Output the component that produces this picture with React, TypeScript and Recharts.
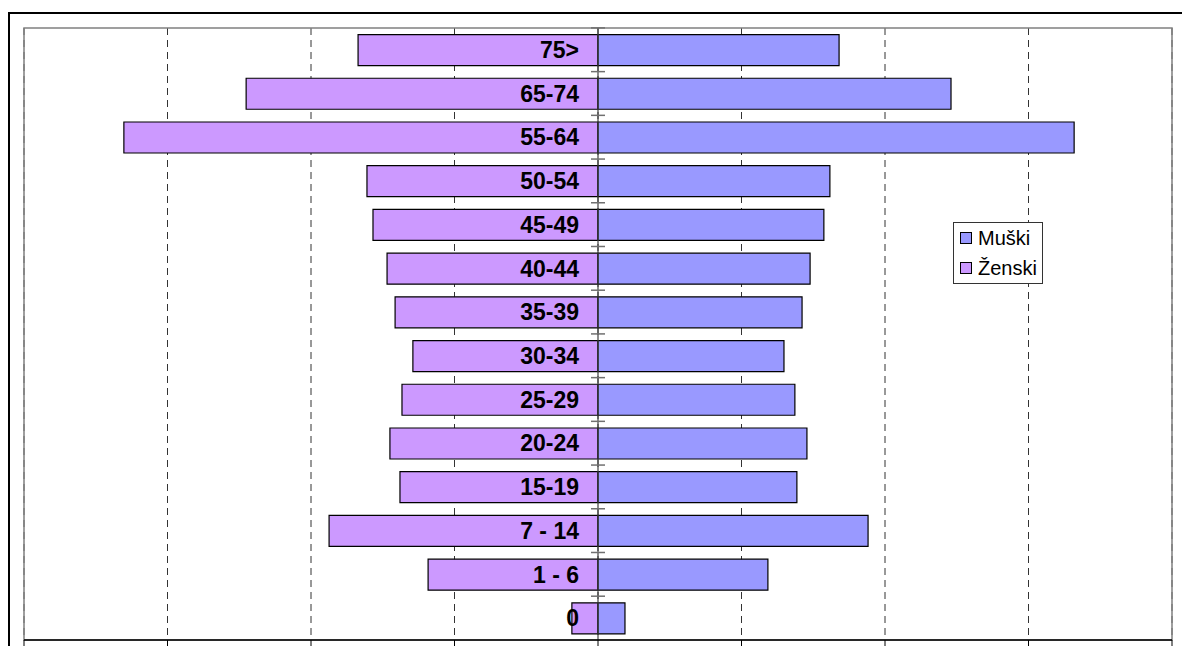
import React from 'react';
import {
  BarChart,
  Bar,
  XAxis,
  YAxis,
  CartesianGrid,
  ReferenceLine,
  ReferenceArea,
  LabelList,
} from 'recharts';

const ageGroups = ['75>', '65-74', '55-64', '50-54', '45-49', '40-44', '35-39', '30-34', '25-29', '20-24', '15-19', '7 - 14', '1 - 6', '0'];
const maleValues = [840, 1230, 1659, 808, 787, 739, 711, 648, 686, 728, 693, 941, 592, 94];
const femaleValues = [836, 1226, 1652, 805, 784, 735, 707, 645, 683, 725, 690, 937, 592, 91];
const xTicks = [-2000, -1500, -1000, -500, 0, 500, 1000, 1500, 2000];
const seriesNames = ['Muški', 'Ženski'];
const seriesColors = ['#9999FF', '#CC99FF'];

const data = ageGroups.map((age, i) => ({
  age,
  male: maleValues[i],
  female: -femaleValues[i],
}));

const GAP = 0.15;

const AgeLabel = (props: any) => {
  const vb = props.viewBox || props;
  const x = vb.x;
  const y = vb.y;
  const h = vb.height;
  const half = (h * GAP) / (1 - 2 * GAP);
  const tickY = y - half;
  return (
    <g>
      <line x1={x - 7} x2={x + 7} y1={tickY} y2={tickY} stroke="#707070" strokeWidth={1.5} />
      <text
        x={x - 19}
        y={y + h / 2 + 8}
        textAnchor="end"
        fontFamily="'Liberation Sans', Arial, sans-serif"
        fontWeight="bold"
        fontSize={23}
        fill="#000"
      >
        {props.value}
      </text>
    </g>
  );
};

export default function App() {
  return (
    <div
      style={{
        position: 'fixed',
        left: 8,
        top: 12,
        width: 1200,
        height: 700,
        border: '2px solid #000',
        background: '#fff',
        overflow: 'hidden',
      }}
    >
      <BarChart
        width={1180}
        height={657}
        data={data}
        layout="vertical"
        stackOffset="sign"
        barCategoryGap="15%"
        margin={{ top: 14, right: 18, bottom: 0, left: 14 }}
      >
        <CartesianGrid horizontal={false} stroke="#333" strokeDasharray="7 5" />
        <ReferenceArea x1={-2000} x2={2000} fill="none" stroke="#808080" strokeWidth={1.5} />
        <XAxis
          type="number"
          domain={[-2000, 2000]}
          ticks={xTicks}
          height={31}
          axisLine={{ stroke: '#000', strokeWidth: 1.5 }}
          tickLine={{ stroke: '#000' }}
          tickSize={7}
          tickFormatter={() => ''}
        />
        <YAxis type="category" dataKey="age" hide />
        <Bar dataKey="female" name={seriesNames[1]} stackId="a" fill={seriesColors[1]} stroke="#000" strokeWidth={1.2} isAnimationActive={false} />
        <Bar dataKey="male" name={seriesNames[0]} stackId="a" fill={seriesColors[0]} stroke="#000" strokeWidth={1.2} isAnimationActive={false}>
          <LabelList dataKey="age" content={AgeLabel} />
        </Bar>
        <ReferenceLine x={0} stroke="#404040" strokeWidth={1.2} />
      </BarChart>
      <div
        style={{
          position: 'absolute',
          left: 943,
          top: 208,
          width: 82,
          border: '1px solid #333',
          background: '#fff',
          fontFamily: "'Liberation Sans', Arial, sans-serif",
          fontSize: 20,
          lineHeight: '30px',
          color: '#000',
          paddingLeft: 6,
          boxSizing: 'content-box',
        }}
      >
        {seriesNames.map((name, i) => (
          <div key={name} style={{ display: 'flex', alignItems: 'center', whiteSpace: 'nowrap' }}>
            <span
              style={{
                display: 'inline-block',
                width: 10,
                height: 10,
                background: seriesColors[i],
                border: '1px solid #000',
                marginRight: 6,
              }}
            />
            <span>{name}</span>
          </div>
        ))}
      </div>
    </div>
  );
}
